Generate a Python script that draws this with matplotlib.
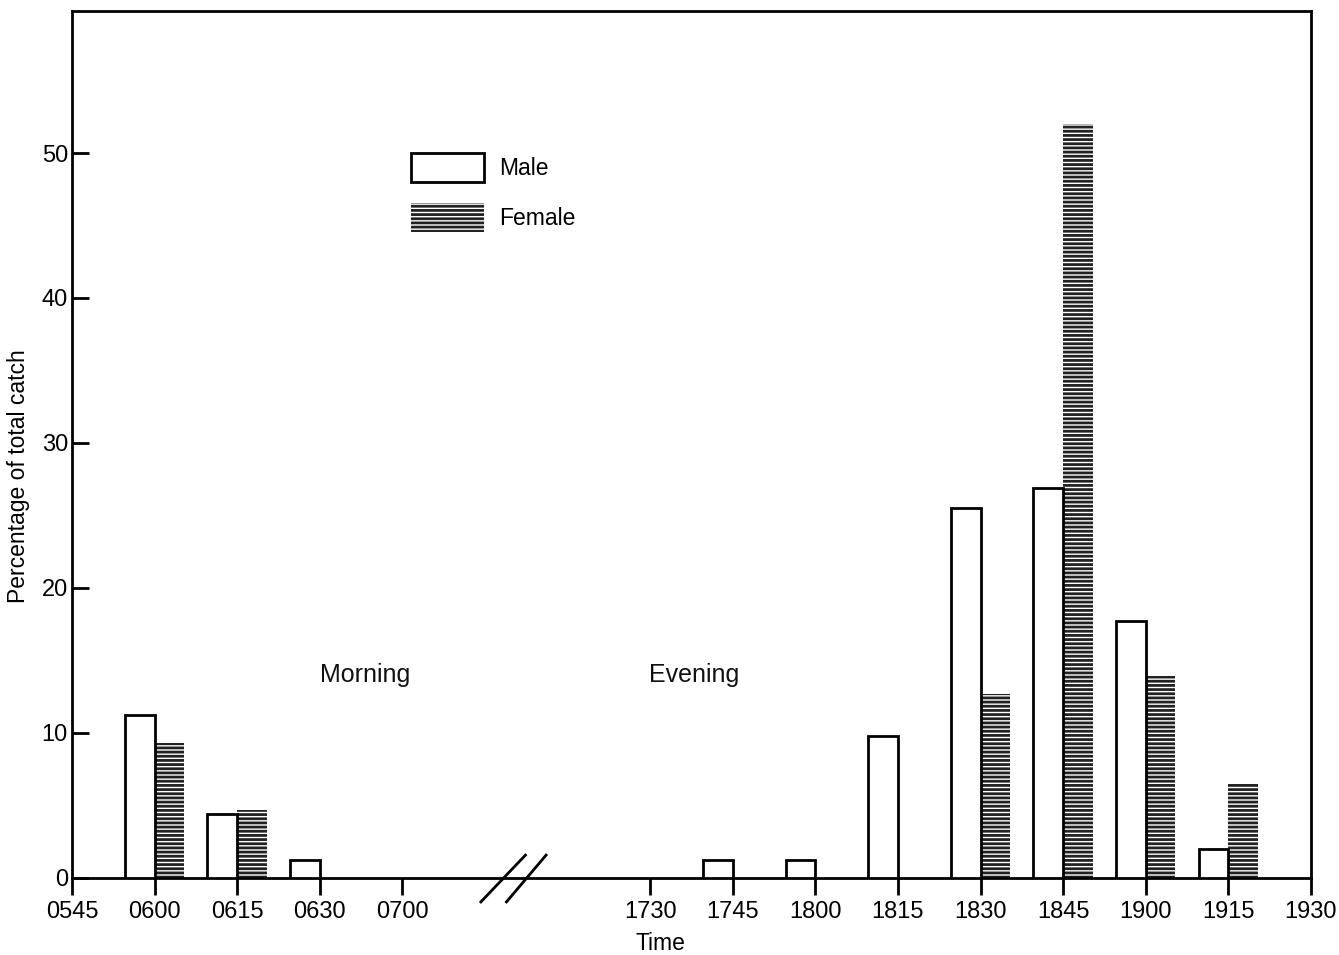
import numpy as np
import matplotlib.pyplot as plt
import matplotlib.transforms as mtransforms
from matplotlib.patches import Patch

# time slots along the x axis (gap between morning and evening)
tick_labels = ['0545', '0600', '0615', '0630', '0700',
               '1730', '1745', '1800', '1815', '1830', '1845', '1900', '1915', '1930']
tick_pos = [0, 1, 2, 3, 4, 7, 8, 9, 10, 11, 12, 13, 14, 15]

# slots that have catches
bar_slots = ['0600', '0615', '0630', '1745', '1800', '1815', '1830', '1845', '1900', '1915']
male = [11.2, 4.4, 1.2, 1.2, 1.2, 9.8, 25.5, 26.9, 17.7, 2.0]
female = [9.3, 4.7, 0, 0, 0, 0, 12.7, 52.0, 13.9, 6.5]

plt.rcParams['hatch.linewidth'] = 2.0
plt.rcParams['font.family'] = ['Liberation Sans', 'DejaVu Sans']

fig = plt.figure(figsize=(13.39, 9.55), dpi=100)
ax = fig.add_axes([0.0538, 0.081, 0.9252, 0.9075])

pos_of = dict(zip(tick_labels, tick_pos))
x = np.array([pos_of[s] for s in bar_slots], dtype=float)
w = 0.36

ax.bar(x, male, width=-w, align='edge', facecolor='white',
       edgecolor='black', linewidth=2.0, zorder=3)
ax.bar(x, female, width=w, align='edge', facecolor='white',
       edgecolor='#222222', hatch='----', linewidth=0, zorder=2)

ax.set_xlim(0, 15)
ax.set_ylim(0, 59.8)

ax.set_xticks(tick_pos)
ax.set_xticklabels(tick_labels)
ax.set_yticks([0, 10, 20, 30, 40, 50])

for lab in ax.get_xticklabels() + ax.get_yticklabels():
    lab.set_fontsize(17)
# nudge the last label so it stays inside the figure
last = ax.get_xticklabels()[-1]
last.set_transform(last.get_transform() +
                   mtransforms.ScaledTranslation(-5 / 100, 0, fig.dpi_scale_trans))

ax.tick_params(axis='x', direction='out', length=12, width=2, pad=5)
ax.tick_params(axis='y', direction='in', length=12, width=2, pad=3)
for sp in ax.spines.values():
    sp.set_linewidth(2)

ax.set_xlabel('Time', fontsize=16.5)
ax.set_ylabel('Percentage of total catch', fontsize=16.5)
ax.xaxis.set_label_coords(0.4746, -0.063)
ax.yaxis.set_label_coords(-0.034, 0.463)

ax.text(3.55, 14.0, 'Morning', fontsize=18, ha='center', va='center', color='#111111')
ax.text(7.53, 14.0, 'Evening', fontsize=18, ha='center', va='center', color='#111111')

# axis break marks
trans = ax.get_xaxis_transform()
for x0, x1 in [(4.95, 5.49), (5.26, 5.74)]:
    ax.plot([x0, x1], [-0.028, 0.026], color='black', lw=2,
            transform=trans, clip_on=False, zorder=5)

handles = [Patch(facecolor='white', edgecolor='black', linewidth=2, label='Male'),
           Patch(facecolor='white', edgecolor='#222222', hatch='----',
                 linewidth=0, label='Female')]
ax.legend(handles=handles, loc='upper left', bbox_to_anchor=(0.257, 0.8605),
          frameon=False, handlelength=3.2, handleheight=1.6,
          labelspacing=0.9, handletextpad=0.65, borderpad=0.4,
          prop={'size': 16.5})

fig.savefig('out.png', dpi=100)
